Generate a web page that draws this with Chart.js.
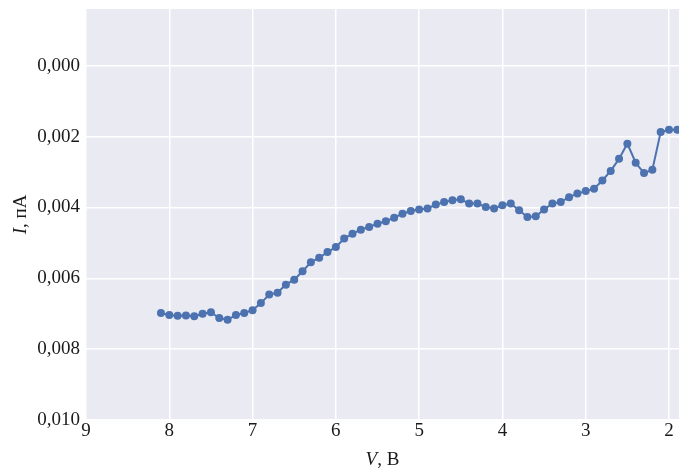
<!DOCTYPE html>
<html>
<head>
<meta charset="utf-8">
<script src="https://cdn.jsdelivr.net/npm/chart.js@4.4.0/dist/chart.umd.min.js"></script>
<style>
  html, body { margin: 0; padding: 0; background: #ffffff; }
  #wrap { width: 679px; height: 468px; }
</style>
</head>
<body>
<div id="wrap"><canvas id="grafico" width="679" height="468"></canvas></div>
<script>
// Datos: tensión V (В) y corriente I (пА)
const voltajes = [8.1, 8.0, 7.9, 7.8, 7.7, 7.6, 7.5, 7.4, 7.3, 7.2, 7.1, 7.0,
    6.9, 6.8, 6.7, 6.6, 6.5, 6.4, 6.3, 6.2, 6.1, 6.0,
    5.9, 5.8, 5.7, 5.6, 5.5, 5.4, 5.3, 5.2, 5.1, 5.0,
    4.9, 4.8, 4.7, 4.6, 4.5, 4.4, 4.3, 4.2, 4.1, 4.0,
    3.9, 3.8, 3.7, 3.6, 3.5, 3.4, 3.3, 3.2, 3.1, 3.0,
    2.9, 2.8, 2.7, 2.6, 2.5, 2.4, 2.3, 2.2, 2.1, 2.0, 1.9];

const corrientes = [0.00698, 0.00704, 0.00706, 0.00705, 0.00707, 0.00700, 0.00696, 0.00712, 0.00717, 0.00704, 0.00698, 0.00690,
    0.00670, 0.00646, 0.00641, 0.00618, 0.00604, 0.00580, 0.00555, 0.00542, 0.00526, 0.00512,
    0.00488, 0.00474, 0.00463, 0.00455, 0.00446, 0.00439, 0.00429, 0.00418, 0.00410, 0.00406,
    0.00403, 0.00392, 0.00385, 0.00380, 0.00377, 0.00389, 0.00389, 0.00399, 0.00403, 0.00394,
    0.00389, 0.00408, 0.00427, 0.00425, 0.00406, 0.00389, 0.00385, 0.00371, 0.00361, 0.00354,
    0.00347, 0.00324, 0.00297, 0.00263, 0.00220, 0.00274, 0.00303, 0.00294, 0.00187, 0.00181, 0.00181];

const ticksX = [9, 8, 7, 6, 5, 4, 3, 2];
const ticksY = [0, 0.002, 0.004, 0.006, 0.008, 0.010];

const fuente = '"Liberation Serif", "Times New Roman", serif';
const colorTexto = '#1a1a1a';

// Fondo gris del área del gráfico (estilo seaborn)
const fondoArea = {
    id: 'fondoArea',
    beforeDraw(chart) {
        const a = chart.chartArea;
        const ctx = chart.ctx;
        ctx.save();
        ctx.fillStyle = '#eaeaf2';
        ctx.fillRect(a.left, a.top, a.right - a.left, a.bottom - a.top);
        ctx.restore();
    }
};

// Títulos de ejes con la letra de la magnitud en cursiva
function textoMixto(ctx, partes, cx, cy, rot) {
    ctx.save();
    ctx.translate(cx, cy);
    ctx.rotate(rot);
    ctx.textBaseline = 'alphabetic';
    ctx.textAlign = 'left';
    ctx.fillStyle = colorTexto;
    const anchos = partes.map(p => {
        ctx.font = p[0] + ' 19px ' + fuente;
        return ctx.measureText(p[1]).width;
    });
    let x = -anchos.reduce((s, w) => s + w, 0) / 2;
    partes.forEach((p, i) => {
        ctx.font = p[0] + ' 19px ' + fuente;
        ctx.fillText(p[1], x, 0);
        x += anchos[i];
    });
    ctx.restore();
}

const titulosEjes = {
    id: 'titulosEjes',
    afterDraw(chart) {
        const a = chart.chartArea;
        const ctx = chart.ctx;
        textoMixto(ctx, [['italic', 'V'], ['normal', ', В']], (a.left + a.right) / 2, 465, 0);
        textoMixto(ctx, [['italic', 'I'], ['normal', ', пА']], 26, (a.top + a.bottom) / 2, -Math.PI / 2);
    }
};

const puntos = voltajes.map((v, i) => ({ x: v, y: corrientes[i] }));

const ctx = document.getElementById('grafico').getContext('2d');
const myChart = new Chart(ctx, {
    type: 'line',
    data: {
        datasets: [{
            data: puntos,
            borderColor: '#4c72b0',
            backgroundColor: '#4c72b0',
            borderWidth: 2,
            pointRadius: 4,
            pointHoverRadius: 4,
            pointBorderWidth: 0,
            tension: 0,
            fill: false
        }]
    },
    options: {
        responsive: false,
        animation: false,
        devicePixelRatio: 1,
        layout: { autoPadding: false, padding: { top: 9, left: 0, right: 0, bottom: 0 } },
        plugins: {
            legend: { display: false },
            tooltip: { enabled: false }
        },
        scales: {
            x: {
                type: 'linear',
                reverse: true,
                min: 1.88,
                max: 9,
                border: { display: false },
                grid: { color: '#ffffff', lineWidth: 1.5, drawTicks: false },
                ticks: {
                    padding: 0,
                    color: colorTexto,
                    font: { family: fuente, size: 19 },
                    callback: v => String(v)
                },
                afterBuildTicks: scale => { scale.ticks = ticksX.map(v => ({ value: v })); },
                afterFit: scale => {
                    scale.height = 48;
                    scale.paddingLeft = 0;
                    scale.paddingRight = 0;
                }
            },
            y: {
                type: 'linear',
                reverse: true,
                min: -0.0016,
                max: 0.010,
                border: { display: false },
                grid: { color: '#ffffff', lineWidth: 1.5, drawTicks: false },
                ticks: {
                    padding: 6,
                    color: colorTexto,
                    font: { family: fuente, size: 19 },
                    callback: v => v.toFixed(3).replace('.', ',')
                },
                afterBuildTicks: scale => { scale.ticks = ticksY.map(v => ({ value: v })); },
                afterFit: scale => {
                    scale.width = 86;
                    scale.paddingTop = 0;
                    scale.paddingBottom = 0;
                }
            }
        }
    },
    plugins: [fondoArea, titulosEjes]
});
</script>
</body>
</html>
